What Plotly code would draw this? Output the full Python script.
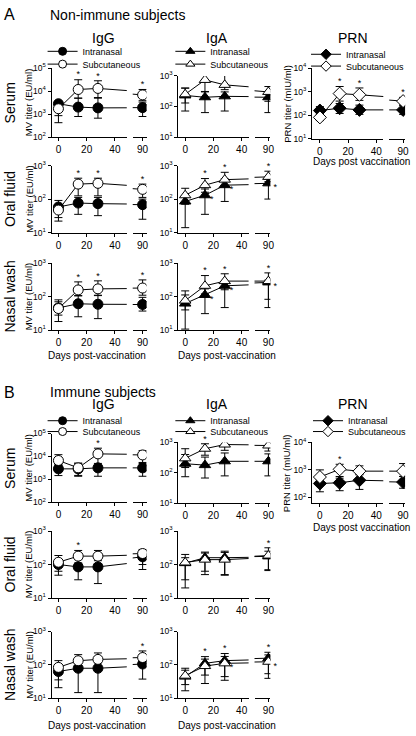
import plotly.graph_objects as go

W, H = 416, 736
FONT = "Liberation Sans, Arial, Helvetica, sans-serif"

days = [0, 14, 28, 90]
main_ticks = [0, 20, 40]
break_ticks = [90]
series_names = ["Intranasal", "Subcutaneous"]
none4 = [0, 0, 0, 0]

# ---------------- A. Non-immune subjects ----------------
# Serum IgG
a_ser_igg_in = [2800, 2000, 1850, 1900]
a_ser_igg_in_hi = [3500, 4900, 5200, 3300]
a_ser_igg_in_lo = [420, 780, 660, 780]
a_ser_igg_sc = [1700, 11700, 13000, 6800]
a_ser_igg_sc_hi = [3000, 31000, 28000, 11700]
a_ser_igg_sc_lo = [850, 4900, 4900, 3800]
a_ser_igg_sc_star = [0, 1, 1, 1]
# Serum IgA
a_ser_iga_in = [230, 200, 215, 200]
a_ser_iga_in_hi = [400, 300, 300, 300]
a_ser_iga_in_lo = [71, 63, 71, 63]
a_ser_iga_sc = [250, 740, 510, 300]
a_ser_iga_sc_hi = [400, 1200, 1070, 450]
a_ser_iga_sc_lo = [130, 310, 355, 148]
a_ser_iga_sc_star = [0, 1, 1, 0]
# Serum PRN
a_ser_prn_in = [160, 200, 170, 170]
a_ser_prn_in_hi = [234, 316, 270, 270]
a_ser_prn_in_lo = [110, 120, 110, 110]
a_ser_prn_sc = [82, 830, 740, 400]
a_ser_prn_sc_hi = [110, 1660, 1440, 575]
a_ser_prn_sc_lo = [60, 400, 430, 270]
a_ser_prn_sc_star = [0, 1, 1, 1]
# Oral fluid IgG
a_ora_igg_in = [58, 76, 73, 68]
a_ora_igg_in_hi = [91, 112, 112, 100]
a_ora_igg_in_lo = [28, 35, 32, 25]
a_ora_igg_sc = [47, 280, 295, 195]
a_ora_igg_sc_hi = [68, 420, 420, 280]
a_ora_igg_sc_lo = [22, 125, 125, 112]
a_ora_igg_sc_star = [0, 1, 1, 1]
# Oral fluid IgA
a_ora_iga_in = [85, 130, 260, 295]
a_ora_iga_in_hi = [125, 200, 400, 400]
a_ora_iga_in_lo = [14, 35, 85, 100]
a_ora_iga_in_side = [0, 1, 1, 1]
a_ora_iga_sc = [130, 260, 380, 460]
a_ora_iga_sc_hi = [210, 410, 630, 680]
a_ora_iga_sc_lo = [70, 160, 250, 330]
a_ora_iga_sc_star = [0, 1, 1, 1]
# Nasal wash IgG
a_nas_igg_in = [46, 61, 59, 58]
a_nas_igg_in_hi = [80, 107, 107, 95]
a_nas_igg_in_lo = [18, 25, 22, 37]
a_nas_igg_sc = [44, 158, 170, 180]
a_nas_igg_sc_hi = [70, 275, 295, 315]
a_nas_igg_sc_lo = [28, 105, 110, 110]
a_nas_igg_sc_star = [0, 1, 1, 1]
# Nasal wash IgA
a_nas_iga_in = [62, 112, 210, 265]
a_nas_iga_in_hi = [112, 170, 280, 310]
a_nas_iga_in_lo = [10.7, 31, 47, 47]
a_nas_iga_in_side = [0, 1, 1, 1]
a_nas_iga_sc = [76, 210, 290, 290]
a_nas_iga_sc_hi = [148, 425, 480, 510]
a_nas_iga_sc_lo = [40, 120, 160, 83]
a_nas_iga_sc_star = [0, 1, 1, 1]

# ---------------- B. Immune subjects ----------------
# Serum IgG
b_ser_igg_in = [2900, 2900, 3200, 3200]
b_ser_igg_in_hi = [4500, 5100, 5000, 5000]
b_ser_igg_in_lo = [1480, 1380, 1380, 1380]
b_ser_igg_sc = [6700, 3200, 13000, 11700]
b_ser_igg_sc_hi = [12000, 5100, 23000, 18000]
b_ser_igg_sc_lo = [4000, 1500, 4000, 5500]
b_ser_igg_sc_star = [0, 0, 1, 0]
# Serum IgA
b_ser_iga_in = [200, 180, 240, 240]
b_ser_iga_in_hi = [400, 330, 450, 420]
b_ser_iga_in_lo = [75, 68, 80, 80]
b_ser_iga_sc = [300, 620, 850, 790]
b_ser_iga_sc_hi = [620, 900, 1120, 1170]
b_ser_iga_sc_lo = [150, 380, 550, 520]
b_ser_iga_sc_star = [0, 1, 0, 0]
# Serum PRN
b_ser_prn_in = [320, 340, 420, 360]
b_ser_prn_in_hi = [450, 500, 660, 580]
b_ser_prn_in_lo = [160, 175, 195, 215]
b_ser_prn_sc = [550, 1050, 900, 900]
b_ser_prn_sc_hi = [1000, 1600, 1400, 1700]
b_ser_prn_sc_lo = [450, 575, 700, 575]
b_ser_prn_sc_star = [0, 1, 0, 0]
# Oral fluid IgG
b_ora_igg_in = [100, 85, 85, 170]
b_ora_igg_in_hi = [140, 140, 130, 240]
b_ora_igg_in_lo = [48, 35, 27, 71]
b_ora_igg_sc = [117, 178, 178, 213]
b_ora_igg_sc_hi = [186, 263, 263, 282]
b_ora_igg_sc_lo = [63, 112, 105, 100]
b_ora_igg_sc_star = [0, 1, 0, 0]
# Oral fluid IgA
b_ora_iga_in = [110, 160, 160, 175]
b_ora_iga_in_hi = [160, 220, 230, 250]
b_ora_iga_in_lo = [20, 50, 48, 70]
b_ora_iga_sc = [115, 140, 140, 185]
b_ora_iga_sc_hi = [200, 235, 250, 316]
b_ora_iga_sc_lo = [35, 63, 50, 66]
b_ora_iga_sc_star = [0, 0, 0, 1]
# Nasal wash IgG
b_nas_igg_in = [64, 80, 80, 107]
b_nas_igg_in_hi = [90, 126, 115, 145]
b_nas_igg_in_lo = [21, 15, 15, 38]
b_nas_igg_sc = [85, 134, 147, 167]
b_nas_igg_sc_hi = [135, 204, 229, 263]
b_nas_igg_sc_lo = [36, 83, 78, 110]
b_nas_igg_sc_star = [0, 0, 0, 1]
# Nasal wash IgA
b_nas_iga_in = [45, 112, 135, 160]
b_nas_iga_in_hi = [80, 178, 220, 240]
b_nas_iga_in_lo = [17, 28, 35, 40]
b_nas_iga_in_star = [0, 1, 1, 1]
b_nas_iga_sc = [48, 93, 112, 125]
b_nas_iga_sc_hi = [70, 150, 180, 200]
b_nas_iga_sc_lo = [26, 50, 45, 55]
b_nas_iga_sc_side = [0, 0, 1, 1]

# ---------------- layout geometry (pixels) ----------------
PX_PER_DAY = 1.425
cols = {
    "IgG": dict(axis=52, day0=59, end1=128, seg2=(134, 148), at90=144, symbol="circle", msize=10),
    "IgA": dict(axis=180, day0=187, end1=251, seg2=(257, 273), at90=271, symbol="triangle-up", msize=10),
    "PRN": dict(axis=315, day0=323, end1=387, seg2=(393, 409), at90=407, symbol="diamond", msize=10),
}


def S(v, hi, lo, star=None, side=None):
    return dict(v=v, hi=hi, lo=lo, star=star or none4, side=side or none4)


panels = [
    dict(sec="A", col="IgG", top=63, bot=133, dec=(2, 5), leg=True,
         s=[S(a_ser_igg_in, a_ser_igg_in_hi, a_ser_igg_in_lo),
            S(a_ser_igg_sc, a_ser_igg_sc_hi, a_ser_igg_sc_lo, a_ser_igg_sc_star)]),
    dict(sec="A", col="IgA", top=71, bot=133, dec=(1, 3), leg=True,
         s=[S(a_ser_iga_in, a_ser_iga_in_hi, a_ser_iga_in_lo),
            S(a_ser_iga_sc, a_ser_iga_sc_hi, a_ser_iga_sc_lo, a_ser_iga_sc_star)]),
    dict(sec="A", col="PRN", top=63, bot=135, dec=(1, 4), leg=True,
         s=[S(a_ser_prn_in, a_ser_prn_in_hi, a_ser_prn_in_lo),
            S(a_ser_prn_sc, a_ser_prn_sc_hi, a_ser_prn_sc_lo, a_ser_prn_sc_star)]),
    dict(sec="A", col="IgG", top=162, bot=230, dec=(1, 3), leg=False,
         s=[S(a_ora_igg_in, a_ora_igg_in_hi, a_ora_igg_in_lo),
            S(a_ora_igg_sc, a_ora_igg_sc_hi, a_ora_igg_sc_lo, a_ora_igg_sc_star)]),
    dict(sec="A", col="IgA", top=162, bot=230, dec=(1, 3), leg=False,
         s=[S(a_ora_iga_in, a_ora_iga_in_hi, a_ora_iga_in_lo, None, a_ora_iga_in_side),
            S(a_ora_iga_sc, a_ora_iga_sc_hi, a_ora_iga_sc_lo, a_ora_iga_sc_star)]),
    dict(sec="A", col="IgG", top=261, bot=329, dec=(1, 3), leg=False,
         s=[S(a_nas_igg_in, a_nas_igg_in_hi, a_nas_igg_in_lo),
            S(a_nas_igg_sc, a_nas_igg_sc_hi, a_nas_igg_sc_lo, a_nas_igg_sc_star)]),
    dict(sec="A", col="IgA", top=261, bot=329, dec=(1, 3), leg=False,
         s=[S(a_nas_iga_in, a_nas_iga_in_hi, a_nas_iga_in_lo, None, a_nas_iga_in_side),
            S(a_nas_iga_sc, a_nas_iga_sc_hi, a_nas_iga_sc_lo, a_nas_iga_sc_star)]),
    dict(sec="B", col="IgG", top=434, bot=504, dec=(2, 5), leg=True,
         s=[S(b_ser_igg_in, b_ser_igg_in_hi, b_ser_igg_in_lo),
            S(b_ser_igg_sc, b_ser_igg_sc_hi, b_ser_igg_sc_lo, b_ser_igg_sc_star)]),
    dict(sec="B", col="IgA", top=443, bot=505, dec=(1, 3), leg=True,
         s=[S(b_ser_iga_in, b_ser_iga_in_hi, b_ser_iga_in_lo),
            S(b_ser_iga_sc, b_ser_iga_sc_hi, b_ser_iga_sc_lo, b_ser_iga_sc_star)]),
    dict(sec="B", col="PRN", top=443, bot=505, dec=(1.78, 4), leg=True,
         s=[S(b_ser_prn_in, b_ser_prn_in_hi, b_ser_prn_in_lo),
            S(b_ser_prn_sc, b_ser_prn_sc_hi, b_ser_prn_sc_lo, b_ser_prn_sc_star)]),
    dict(sec="B", col="IgG", top=533, bot=601, dec=(1, 3), leg=False,
         s=[S(b_ora_igg_in, b_ora_igg_in_hi, b_ora_igg_in_lo),
            S(b_ora_igg_sc, b_ora_igg_sc_hi, b_ora_igg_sc_lo, b_ora_igg_sc_star)]),
    dict(sec="B", col="IgA", top=533, bot=601, dec=(1, 3), leg=False,
         s=[S(b_ora_iga_in, b_ora_iga_in_hi, b_ora_iga_in_lo),
            S(b_ora_iga_sc, b_ora_iga_sc_hi, b_ora_iga_sc_lo, b_ora_iga_sc_star)]),
    dict(sec="B", col="IgG", top=635, bot=703, dec=(1, 3), leg=False,
         s=[S(b_nas_igg_in, b_nas_igg_in_hi, b_nas_igg_in_lo),
            S(b_nas_igg_sc, b_nas_igg_sc_hi, b_nas_igg_sc_lo, b_nas_igg_sc_star)]),
    dict(sec="B", col="IgA", top=635, bot=703, dec=(1, 3), leg=False,
         s=[S(b_nas_iga_in, b_nas_iga_in_hi, b_nas_iga_in_lo, b_nas_iga_in_star),
            S(b_nas_iga_sc, b_nas_iga_sc_hi, b_nas_iga_sc_lo, None, b_nas_iga_sc_side)]),
]

legend_pos = {
    ("A", "IgG"): (43, (46, 59)), ("A", "IgA"): (172, (46, 59)), ("A", "PRN"): (309, (49, 61)),
    ("B", "IgG"): (43, (421, 432)), ("B", "IgA"): (172, (421, 432)), ("B", "PRN"): (311, (421, 432)),
}


def fx(p):
    return p / W


def fy(p):
    return 1 - p / H


fig = go.Figure()
layout = {}
legend_count = 0

for i, p in enumerate(panels):
    c = cols[p["col"]]
    yid = i + 1
    x1, x2 = 2 * i + 1, 2 * i + 2
    yname = "y" if yid == 1 else f"y{yid}"
    x1name = "x" if x1 == 1 else f"x{x1}"
    x2name = f"x{x2}"
    r1 = [(c["axis"] - c["day0"]) / PX_PER_DAY, (c["end1"] - c["day0"]) / PX_PER_DAY]
    r2 = [90 - (c["at90"] - c["seg2"][0]) / PX_PER_DAY, 90 + (c["seg2"][1] - c["at90"]) / PX_PER_DAY]
    ydom = [fy(p["bot"]), fy(p["top"])]
    axcommon = dict(showgrid=False, zeroline=False, showline=True, linecolor="black", linewidth=1,
                    ticks="outside", ticklen=3, tickwidth=1, tickcolor="black", fixedrange=True)
    layout["xaxis" if x1 == 1 else f"xaxis{x1}"] = dict(
        domain=[fx(c["axis"]), fx(c["end1"])], range=r1, anchor=yname,
        tickmode="array", tickvals=main_ticks, tickfont=dict(size=10), **axcommon)
    layout[f"xaxis{x2}"] = dict(
        domain=[fx(c["seg2"][0]), fx(c["seg2"][1])], range=r2, anchor=yname,
        tickmode="array", tickvals=break_ticks, tickfont=dict(size=10), **axcommon)
    lo_d, hi_d = p["dec"]
    kvals = list(range(int(-(-lo_d // 1)), int(hi_d) + 1))
    layout["yaxis" if yid == 1 else f"yaxis{yid}"] = dict(
        domain=ydom, type="log", range=[lo_d, hi_d], anchor=x1name,
        tickmode="array", tickvals=[10 ** k for k in kvals],
        ticktext=[f"10<sup>{k}</sup>" for k in kvals], tickfont=dict(size=8.5), **axcommon)

    for si, s in enumerate(p["s"]):
        filled = si == 0
        fill = "black" if filled else "white"
        err = dict(type="data", symmetric=False, color="black", thickness=1, width=4,
                   array=[h - v for h, v in zip(s["hi"], s["v"])],
                   arrayminus=[v - l for v, l in zip(s["v"], s["lo"])])
        marker = dict(symbol=c["symbol"], size=c["msize"], color=fill,
                      line=dict(color="black", width=1))
        if p["leg"]:
            # legend entry (symbol sample only, no data)
            legend_count += 1
            lname = "legend" if legend_count == 1 else f"legend{legend_count}"
            lx, rows = legend_pos[(p["sec"], p["col"])]
            layout[lname] = dict(x=fx(lx), y=fy(rows[si]), xanchor="left", yanchor="middle",
                                 bgcolor="rgba(0,0,0,0)", borderwidth=0, itemwidth=30,
                                 font=dict(size=9, family=FONT, color="black"))
            fig.add_trace(go.Scatter(
                x=[None], y=[None], xaxis=x1name, yaxis=yname, mode="lines+markers",
                name=series_names[si], showlegend=True, legend=lname,
                line=dict(color="black", width=1),
                marker=dict(symbol=c["symbol"], size=c["msize"] - 2, color=fill,
                            line=dict(color="black", width=1)),
                hoverinfo="skip"))
        for seg, xn in ((1, x1name), (2, x2name)):
            fig.add_trace(go.Scatter(
                x=days, y=s["v"], xaxis=xn, yaxis=yname, mode="lines+markers",
                name=series_names[si], showlegend=False,
                line=dict(color="black", width=1), marker=marker, error_y=err,
                cliponaxis=True, hoverinfo="skip"))
            # significance asterisks
            inseg = (lambda d: d <= 48) if seg == 1 else (lambda d: d >= 80)
            tx = [d for d, f in zip(days, s["star"]) if f and inseg(d)]
            ty = [h for d, h, f in zip(days, s["hi"], s["star"]) if f and inseg(d)]
            if tx:
                fig.add_trace(go.Scatter(x=tx, y=ty, xaxis=xn, yaxis=yname, mode="text",
                                         text=["*"] * len(tx), textposition="top center",
                                         textfont=dict(size=9, color="black"),
                                         showlegend=False, cliponaxis=False, hoverinfo="skip"))
            sx = [d for d, f in zip(days, s["side"]) if f and inseg(d)]
            sy = [v for d, v, f in zip(days, s["v"], s["side"]) if f and inseg(d)]
            if sx:
                fig.add_trace(go.Scatter(x=sx, y=sy, xaxis=xn, yaxis=yname, mode="text",
                                         text=["  *"] * len(sx), textposition="bottom right",
                                         textfont=dict(size=9, color="black"),
                                         showlegend=False, cliponaxis=False, hoverinfo="skip"))

ann = []


def A(text, x, y, size, angle=0, xanchor="center"):
    ann.append(dict(text=text, x=fx(x), y=fy(y), xref="paper", yref="paper", showarrow=False,
                    xanchor=xanchor, yanchor="middle", textangle=angle,
                    font=dict(size=size, family=FONT, color="black")))


A("A", 2, 9, 16, xanchor="left")
A("Non-immune subjects", 48, 9, 14, xanchor="left")
A("B", 2, 392, 16, xanchor="left")
A("Immune subjects", 48, 392, 14, xanchor="left")
for t, x in (("IgG", 104), ("IgA", 219), ("PRN", 356)):
    A(t, x, 32, 14)
    A(t, x, 404, 14)
for t, y in (("Serum", 98), ("Oral fluid", 196), ("Nasal wash", 295),
             ("Serum", 469), ("Oral fluid", 567), ("Nasal wash", 669)):
    A(t, 10, y, 14, angle=-90)
for y in (98, 196, 295, 469, 567, 669):
    A("MV titer (EU/ml)", 29, y, 9.5, angle=-90)
A("PRN titer (mIU/ml)", 290, 99, 9.5, angle=-90)
A("PRN titer (mIU/ml)", 290, 474, 9.5, angle=-90)
for y in (355, 730):
    A("Days post-vaccination", 98, y, 10)
    A("Days post-vaccination", 229, y, 10)
A("Days post vaccination", 365, 158, 10)
A("Days post vaccination", 365, 529, 10)

layout["annotations"] = ann
fig.update_layout(**layout)
fig.update_layout(width=W, height=H, autosize=False, margin=dict(l=0, r=0, t=0, b=0),
                  plot_bgcolor="white", paper_bgcolor="white", hovermode=False,
                  font=dict(family=FONT, color="black"))

fig.write_html("out.html", config={"displayModeBar": False, "staticPlot": True},
               post_script="document.body.style.margin='0';")
